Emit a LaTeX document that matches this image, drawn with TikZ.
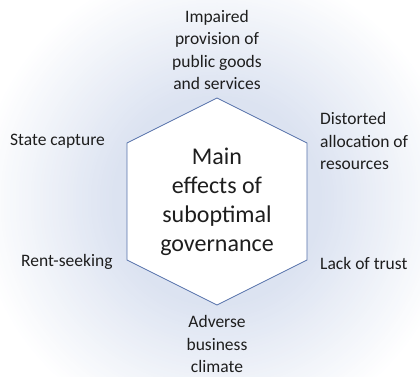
\documentclass[tikz,border=0pt]{standalone}
\usepackage{fontspec}
\setmainfont{Carlito}
\definecolor{glowc}{RGB}{220,227,241}
\definecolor{hexline}{RGB}{84,112,170}
\definecolor{txt}{RGB}{30,30,30}
\begin{document}
\begin{tikzpicture}[x=1pt,y=-1pt,
  lbl/.style={font=\fontsize{17.5}{22.5}\selectfont, text=txt, inner sep=0pt},
  hexstyle/.style={draw=hexline, line width=0.8pt, fill=white, line join=miter},
  maintxt/.style={font=\fontsize{24}{29}\selectfont, text=txt, align=center, inner sep=0pt}]
\useasboundingbox (0,0) rectangle (420,377);
\fill[white] (0,0) rectangle (420,377);
\begin{scope}
\clip (0,0) rectangle (420,377);
\foreach \i in {0,...,45}{
  \pgfmathsetmacro{\rr}{240-\i*3}
  \pgfmathsetmacro{\pp}{\i*100/45}
  \fill[glowc!\pp!white] (217,201) circle[radius=\rr];
}
\end{scope}
\coordinate (t) at (217,98);
\coordinate (ur) at (307,143);
\coordinate (lr) at (307,260);
\coordinate (b) at (217,305);
\coordinate (ll) at (127,260);
\coordinate (ul) at (127,143);
\draw[hexstyle] (t) -- (ur) -- (lr) -- (b) -- (ll) -- (ul) -- cycle;
\node[maintxt] (main) at (217,202) {Main\\effects of\\suboptimal\\governance};
\node[lbl, align=center] (top) at (217,50) {Impaired\\provision of\\public goods\\and services};
\node[lbl, align=left, anchor=west] (dist) at (320,141) {Distorted\\allocation of\\resources};
\node[lbl, anchor=west] (state) at (10,141) {State capture};
\node[lbl, anchor=west] (rent) at (21,262) {Rent-seeking};
\node[lbl, anchor=west] (lack) at (320,263) {Lack of trust};
\node[lbl, align=center] (adv) at (217,344) {Adverse\\business\\climate};
\end{tikzpicture}
\end{document}
